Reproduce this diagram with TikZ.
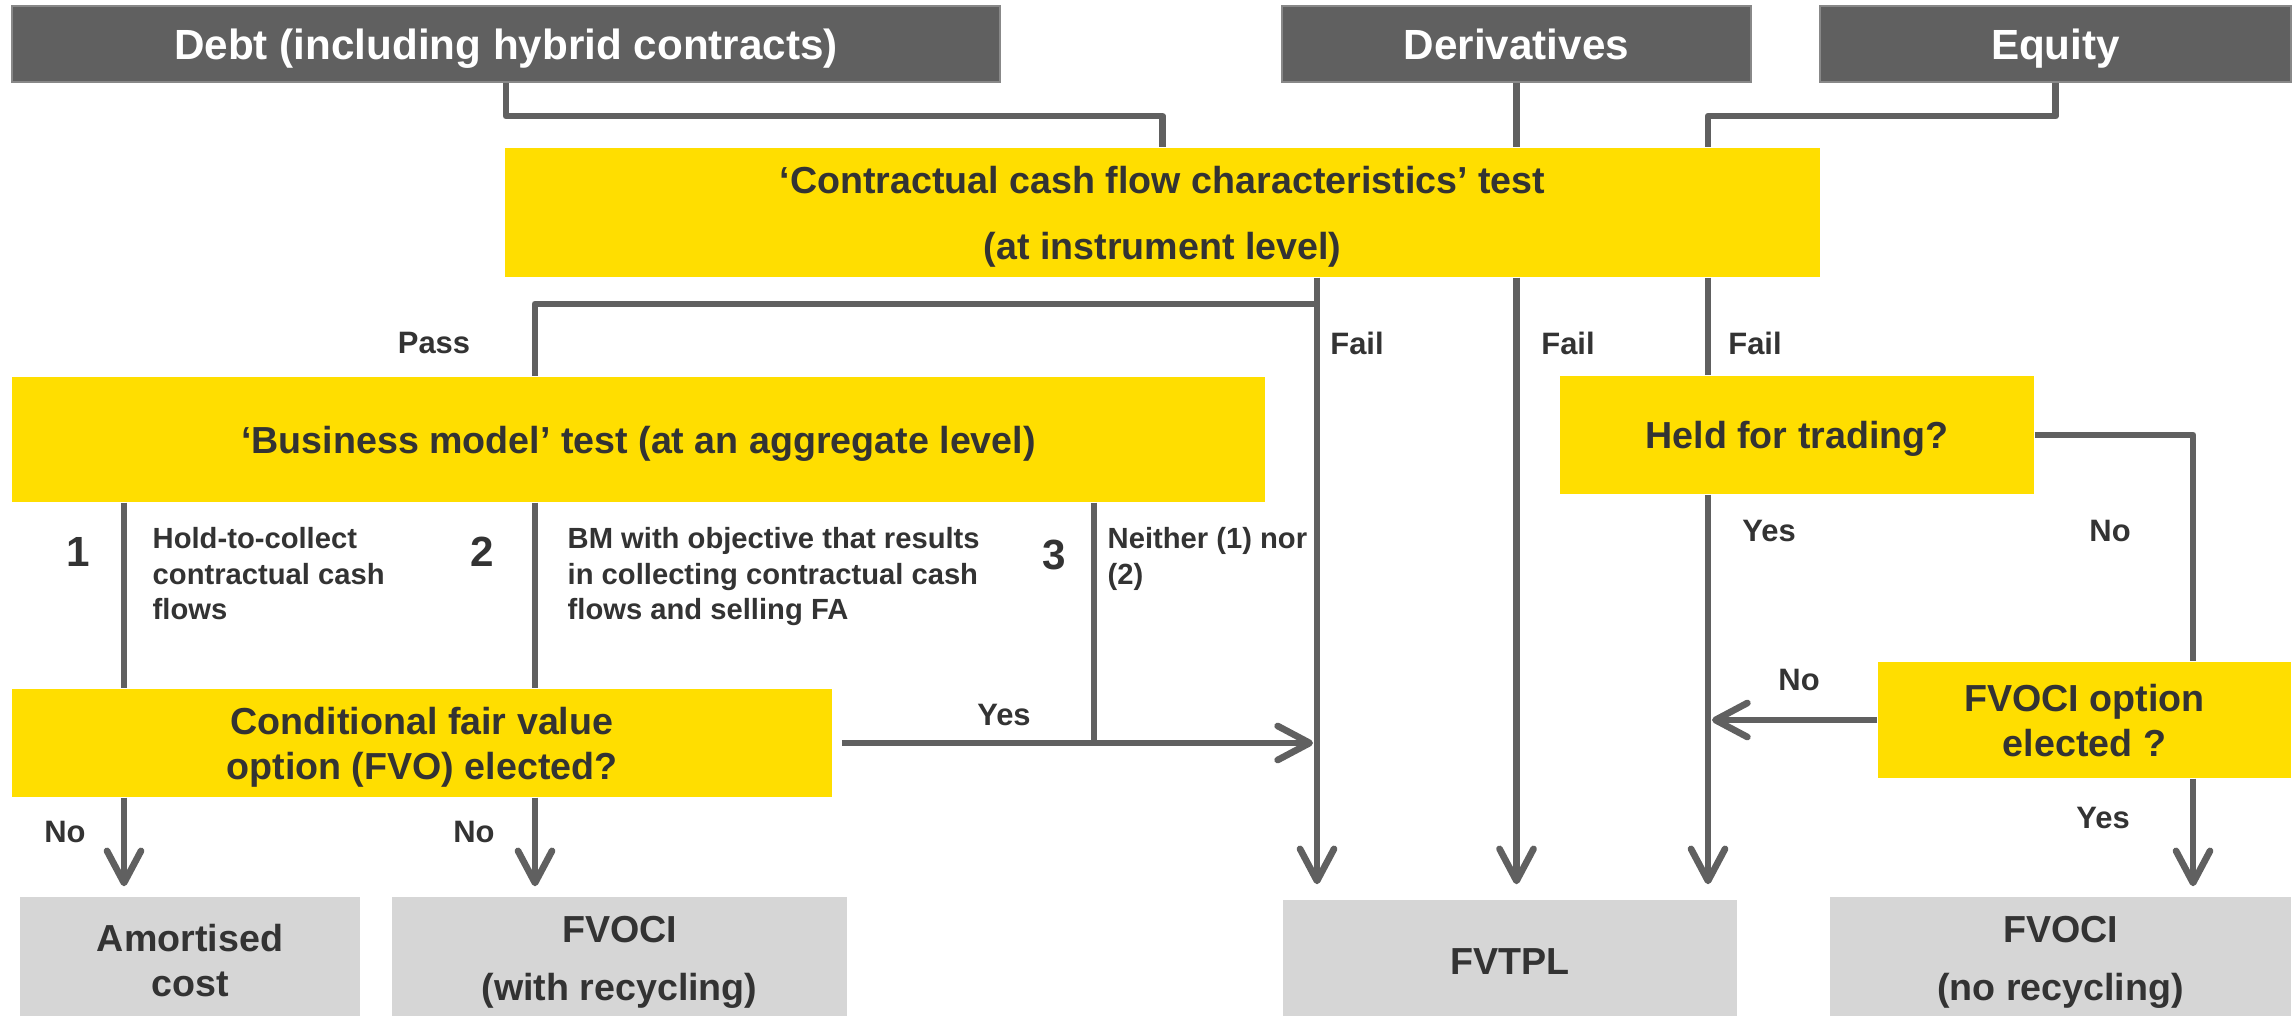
\documentclass[tikz,border=0pt]{standalone}
\usepackage{fontspec}
\setmainfont{Liberation Sans}
\usetikzlibrary{positioning,arrows.meta,calc}

\definecolor{eygray}{HTML}{606060}
\definecolor{eyyellow}{HTML}{FFDE00}
\definecolor{eylight}{HTML}{D6D6D6}
\definecolor{eytext}{HTML}{333333}

\begin{document}
\begin{tikzpicture}[
  x=0.01cm,y=-0.01cm,
  >={Straight Barb[length=3.2mm,width=3.4mm,round]},
  cat/.style={fill=eygray,draw=eygray!75,line width=0.6pt,text=white,inner sep=0pt,
              minimum height=0.76cm,text height=8.6pt,text depth=0pt,
              font=\fontsize{12}{14}\selectfont\bfseries},
  test/.style={fill=eyyellow,text=eytext,align=center,inner sep=0pt,text depth=0pt,
               font=\fontsize{10.7}{12.8}\selectfont\bfseries},
  res/.style={fill=eylight,text=eytext,align=center,inner sep=0pt,
              font=\fontsize{10.7}{12.8}\selectfont\bfseries},
  link/.style={draw=eygray,line width=1.9pt,line join=round},
  arr/.style={link,->},
  lbl/.style={text=eytext,inner sep=0pt,font=\fontsize{8.8}{10.5}\selectfont\bfseries},
  desc/.style={text=eytext,align=left,inner sep=0pt,anchor=north west,
               font=\fontsize{8.3}{10}\selectfont\bfseries},
  num/.style={text=eytext,inner sep=0pt,font=\fontsize{12}{14}\selectfont\bfseries}
]
  \useasboundingbox (0,0) rectangle (2295,1016);

  % categorias de instrumentos
  \node[cat,minimum width=9.88cm] (debt) at (506,44) {Debt (including hybrid contracts)};
  \node[cat,minimum width=4.69cm] (deriv) at (1516.5,44) {Derivatives};
  \node[cat,minimum width=4.71cm] (equity) at (2055.5,44) {Equity};

  % pruebas
  \node[test,minimum width=13.15cm,minimum height=1.29cm,
        font=\fontsize{10.7}{18.8}\selectfont\bfseries] (ccf) at (1162.5,212.5)
       {‘Contractual cash flow characteristics’ test\\(at instrument level)};
  \node[test,minimum width=12.53cm,minimum height=1.25cm] (bm) at (638.5,439.5)
       {‘Business model’ test (at an aggregate level)};
  \node[test,minimum width=4.74cm,minimum height=1.18cm] (hft) at (1797,435) {Held for trading?};
  \node[test,minimum width=8.2cm,minimum height=1.08cm] (fvo) at (422,743)
       {Conditional fair value\\option (FVO) elected?};
  \node[test,minimum width=4.13cm,minimum height=1.16cm] (fvopt) at (2084.5,720)
       {FVOCI option\\elected ?};

  % resultados
  \node[res,minimum width=3.4cm,minimum height=1.27cm] (amort) at (190,960.5) {Amortised\\cost};
  \node[res,minimum width=4.55cm,minimum height=1.3cm,
        font=\fontsize{10.7}{16.5}\selectfont\bfseries] (fvociR) at (619.5,962)
       {FVOCI\\(with recycling)};
  \node[res,minimum width=4.54cm,minimum height=1.24cm] (fvtpl) at (1510,962) {FVTPL};
  \node[res,minimum width=4.61cm,minimum height=1.31cm,
        font=\fontsize{10.7}{16.5}\selectfont\bfseries] (fvociN) at (2060.5,962.5)
       {FVOCI\\(no recycling)};

  % columnas de las lineas verticales
  \coordinate (colA) at (1317,0);
  \coordinate (colC) at (1708,0);
  \coordinate (colD) at (2193,0);
  \coordinate (col1) at (124,0);
  \coordinate (col2) at (535,0);
  \coordinate (col3) at (1094,0);
  \coordinate (passY) at (0,304);

  % entradas a la prueba SPPI
  \draw[link] (debt.south) -- ++(0,33) -| (ccf.north);
  \draw[link] (equity.south) -- ++(0,33) -| (ccf.north -| colC);
  \draw[link] (deriv.south) -- (ccf.north -| deriv.south);

  % salidas de la prueba SPPI
  \draw[link] (colA |- passY) -| (bm.north -| col2);
  \draw[arr,shorten >=0.15cm] (ccf.south -| colA) -- (fvtpl.north -| colA);
  \draw[arr,shorten >=0.15cm] (ccf.south -| deriv.south) -- (fvtpl.north -| deriv.south);
  \draw[link] (ccf.south -| colC) -- (hft.north -| colC);

  % acciones
  \draw[arr,shorten >=0.15cm] (hft.south -| colC) -- (fvtpl.north -| colC);
  \draw[link] (hft.east) -| (fvopt.north -| colD);
  \draw[arr,shorten >=0.1cm] (fvopt.south -| colD) -- (fvociN.north -| colD);
  \draw[arr,shorten >=0.04cm] (fvopt.west) -- (fvopt.west -| colC);

  % modelo de negocio
  \draw[link] (bm.south -| col1) -- (fvo.north -| col1);
  \draw[link] (bm.south -| col2) -- (fvo.north -| col2);
  \draw[link] (bm.south -| col3) -- (fvo.east -| col3);
  \draw[arr,shorten <=0.09cm,shorten >=0.04cm] (fvo.east) -- (fvo.east -| colA);
  \draw[arr,shorten >=0.1cm] (fvo.south -| col1) -- (amort.north -| col1);
  \draw[arr,shorten >=0.1cm] (fvo.south -| col2) -- (fvociR.north -| col2);

  % etiquetas
  \node[lbl] (lPass) at (434,343) {Pass};
  \node[lbl] (lFailA) at (1357,343) {Fail};
  \node[lbl] (lFailB) at (1568,343) {Fail};
  \node[lbl] (lFailC) at (1755,343) {Fail};
  \node[lbl] (lYesH) at (1769,531) {Yes};
  \node[lbl] (lNoH) at (2110,531) {No};
  \node[lbl] (lNoO) at (1799,680) {No};
  \node[lbl] (lYesO) at (2103,818) {Yes};
  \node[lbl] (lYesF) at (1004,715) {Yes};
  \node[lbl] (lNo1) at (65,832) {No};
  \node[lbl] (lNo2) at (474,832) {No};

  % opciones del modelo de negocio
  \node[num] (n1) at (78,552) {1};
  \node[num] (n2) at (482,552) {2};
  \node[num] (n3) at (1054,555) {3};
  \node[desc] (d1) at (152,527) {Hold-to-collect\\contractual cash\\flows};
  \node[desc] (d2) at (567,527) {BM with objective that results\\in collecting contractual cash\\flows and selling FA};
  \node[desc] (d3) at (1107,527) {Neither (1) nor\\(2)};
\end{tikzpicture}
\end{document}
